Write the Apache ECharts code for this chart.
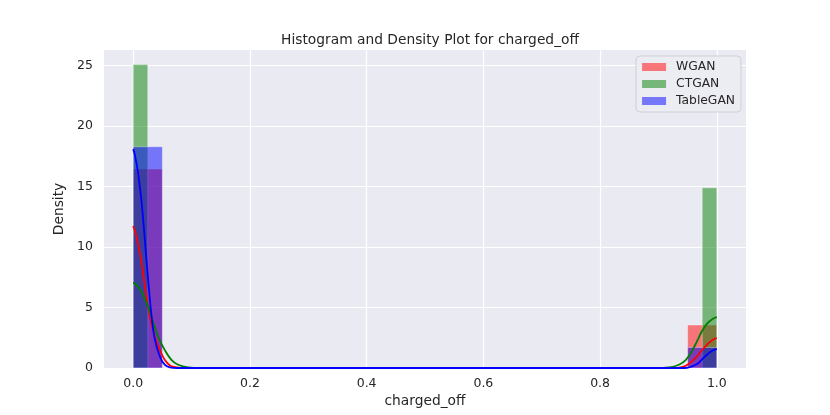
<!DOCTYPE html>
<html>
<head>
<meta charset="utf-8">
<script src="https://cdn.jsdelivr.net/npm/echarts@6/dist/echarts.min.js"></script>
<style>
  html, body { margin: 0; padding: 0; background: #fff; }
  #chart { width: 830px; height: 415px; }
</style>
</head>
<body>
<div id="chart"></div>
<script>
// histogram bins: [start, end, density]
const wganHist = [[0.00, 0.05, 16.45], [0.95, 1.00, 3.55]]
const ctganHist = [[0.000, 0.025, 25.1], [0.975, 1.000, 14.9]]
const tableganHist = [[0.00, 0.05, 18.3], [0.95, 1.00, 1.7]]

// kde curves: [x, density]
const wganKde = [
  [0, 11.74], [0.0057, 10.86], [0.0114, 9.5], [0.017, 7.8], [0.0228, 5.9], [0.0285, 4.26],
  [0.037, 2.6], [0.0456, 1.5], [0.054, 0.68], [0.063, 0.21], [0.074, 0.05], [0.088, 0],
  [0.924, 0], [0.938, 0.05], [0.949, 0.25], [0.957, 0.55], [0.966, 0.96], [0.974, 1.45],
  [0.983, 1.92], [0.992, 2.3], [1.0, 2.48],
]
const ctganKde = [
  [0, 7.06], [0.0085, 6.73], [0.017, 6.05], [0.0256, 5.08], [0.034, 3.85], [0.0427, 2.6],
  [0.054, 1.5], [0.0655, 0.68], [0.077, 0.27], [0.094, 0.05], [0.116, 0],
  [0.895, 0], [0.918, 0.05], [0.935, 0.27], [0.947, 0.68], [0.957, 1.37], [0.966, 2.2],
  [0.974, 3.0], [0.983, 3.65], [0.992, 4.04], [1.0, 4.2],
]
const tableganKde = [
  [0, 18.1], [0.003, 17.6], [0.0085, 16.1], [0.014, 13.9], [0.02, 10.6], [0.0256, 7.3],
  [0.031, 4.5], [0.037, 2.4], [0.0456, 0.96], [0.054, 0.27], [0.063, 0.05], [0.075, 0],
  [0.938, 0], [0.949, 0.02], [0.957, 0.13], [0.966, 0.33], [0.974, 0.68], [0.983, 1.1],
  [0.992, 1.43], [1.0, 1.59],
]

const xTicks = [0, 0.2, 0.4, 0.6, 0.8, 1.0]
const yTicks = [0, 5, 10, 15, 20, 25]
const seriesNames = ['WGAN', 'CTGAN', 'TableGAN']
const fillColors = ['rgba(255,0,0,0.5)', 'rgba(0,128,0,0.5)', 'rgba(0,0,255,0.5)']
const lineColors = ['#ff0000', '#008000', '#0000ff']

const font = 'DejaVu Sans'

function histSeries(name, bins, color) {
  return {
    name: name,
    type: 'custom',
    z: 2,
    data: bins,
    encode: { x: [0, 1], y: 2 },
    itemStyle: { color: color },
    renderItem: function (params, api) {
      const p0 = api.coord([api.value(0), 0])
      const p1 = api.coord([api.value(1), api.value(2)])
      return {
        type: 'rect',
        shape: { x: p0[0], y: p1[1], width: p1[0] - p0[0], height: p0[1] - p1[1] },
        style: { fill: color, stroke: 'rgba(255,255,255,0.45)', lineWidth: 0.8 },
      }
    },
  }
}

function kdeSeries(name, points, color) {
  return {
    name: name + ' kde',
    type: 'line',
    z: 3,
    data: points,
    showSymbol: false,
    smooth: 0.4,
    lineStyle: { color: color, width: 1.8 },
  }
}

const chart = echarts.init(document.getElementById('chart'))
const option = {
  animation: false,
  title: {
    text: 'Histogram and Density Plot for charged_off',
    left: 425,
    textAlign: 'center',
    top: 28,
    textStyle: { fontFamily: font, fontSize: 13.8, fontWeight: 'normal', color: '#262626' },
  },
  legend: {
    orient: 'vertical',
    right: 89,
    top: 56,
    padding: [5, 6, 5, 6],
    itemWidth: 24,
    itemHeight: 8,
    itemGap: 5,
    icon: 'rect',
    backgroundColor: 'rgba(236,236,243,0.9)',
    borderColor: '#cfcfd6',
    borderWidth: 1,
    borderRadius: 4,
    textStyle: { fontFamily: font, fontSize: 12.3, color: '#262626', padding: [0, 0, 0, 5] },
    data: seriesNames.map(function (n, i) {
      return { name: n, itemStyle: { color: fillColors[i] } }
    }),
  },
  grid: { left: 104, right: 84, top: 50, bottom: 47, show: true, backgroundColor: '#eaeaf2', borderWidth: 0 },
  xAxis: {
    type: 'value',
    min: -0.05,
    max: 1.05,
    name: 'charged_off',
    nameLocation: 'middle',
    nameGap: 26,
    nameTextStyle: { fontFamily: font, fontSize: 13.8, color: '#262626' },
    axisLine: { show: false },
    axisTick: { show: false, customValues: xTicks },
    axisLabel: {
      customValues: xTicks,
      margin: 9,
      fontFamily: font,
      fontSize: 12.5,
      color: '#262626',
      formatter: function (v) { return v.toFixed(1) },
    },
    splitLine: { show: true, lineStyle: { color: '#ffffff', width: 1.2 } },
  },
  yAxis: {
    type: 'value',
    min: 0,
    max: 26.3,
    name: 'Density',
    nameLocation: 'middle',
    nameGap: 35,
    nameTextStyle: { fontFamily: font, fontSize: 13.8, color: '#262626' },
    axisLine: { show: false },
    axisTick: { show: false, customValues: yTicks },
    axisLabel: { customValues: yTicks, margin: 11, fontFamily: font, fontSize: 12.5, color: '#262626' },
    splitLine: { show: true, lineStyle: { color: '#ffffff', width: 1.2 } },
  },
  series: [
    histSeries('WGAN', wganHist, fillColors[0]),
    histSeries('CTGAN', ctganHist, fillColors[1]),
    histSeries('TableGAN', tableganHist, fillColors[2]),
    kdeSeries('WGAN', wganKde, lineColors[0]),
    kdeSeries('CTGAN', ctganKde, lineColors[1]),
    kdeSeries('TableGAN', tableganKde, lineColors[2]),
  ],
}
chart.setOption(option)
</script>
</body>
</html>
